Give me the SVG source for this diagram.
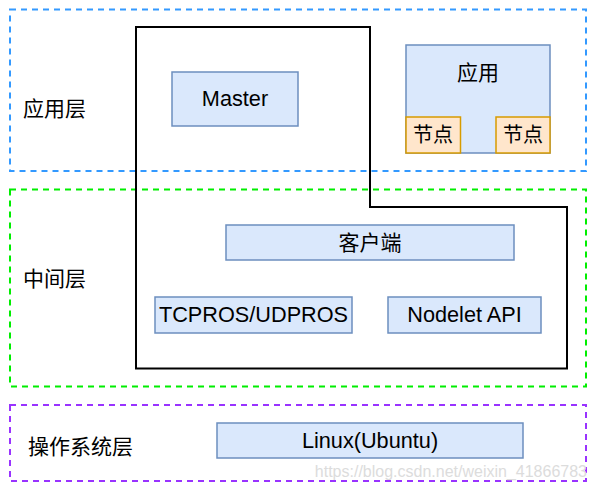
<svg xmlns="http://www.w3.org/2000/svg" width="595" height="488" viewBox="0 0 595 488">
<style>
text{font-family:"Liberation Sans","Noto Sans CJK SC",sans-serif;font-size:21px;fill:#000;dominant-baseline:central}
.c{text-anchor:middle}
.l{font-size:21.7px}
.layer{fill:none;stroke-width:2;stroke-dasharray:6 5}
.box{fill:#dae8fc;stroke:#6c8ebf;stroke-width:1.5}
.node{fill:#ffe6cc;stroke:#d79b00;stroke-width:1.5}
.wm{font-size:16px;fill:#dcdcdc;text-anchor:end;dominant-baseline:auto}
</style>
<rect width="595" height="488" fill="#fff"/>
<g id="layer-app">
<rect class="layer" x="10" y="9.5" width="576" height="161.5" stroke="#3399ff"/>
<text x="23" y="108">应用层</text>
</g>
<g id="layer-mid">
<rect class="layer" x="10" y="189.5" width="576" height="197" stroke="#00ee00"/>
<text x="23" y="278">中间层</text>
</g>
<g id="layer-os">
<rect class="layer" x="10" y="405" width="576" height="76" stroke="#9933ff"/>
<text x="28" y="446">操作系统层</text>
</g>
<g id="ros">
<path d="M136 27H370V207H567V368.5H136Z" fill="none" stroke="#000" stroke-width="2"/>
</g>
<g id="master">
<rect class="box" x="172" y="72" width="126" height="54"/>
<text class="c l" x="235" y="98.5">Master</text>
</g>
<g id="app">
<rect class="box" x="406" y="45" width="144" height="108"/>
<text class="c" x="478" y="72">应用</text>
</g>
<g id="node1">
<rect class="node" x="406" y="117" width="54.5" height="36"/>
<text class="c" x="433" y="135" style="font-size:20px">节点</text>
</g>
<g id="node2">
<rect class="node" x="496" y="117" width="54" height="36"/>
<text class="c" x="523" y="135" style="font-size:20px">节点</text>
</g>
<g id="client">
<rect class="box" x="226" y="225" width="288" height="35"/>
<text class="c" x="370" y="242.5">客户端</text>
</g>
<g id="tcpros">
<rect class="box" x="155" y="297" width="197" height="36"/>
<text class="c l" x="253.5" y="314.5">TCPROS/UDPROS</text>
</g>
<g id="nodelet">
<rect class="box" x="388" y="297" width="153" height="36"/>
<text class="c l" x="464.5" y="314.5">Nodelet API</text>
</g>
<g id="linux">
<rect class="box" x="217" y="423" width="306" height="35"/>
<text class="c l" x="370" y="440">Linux(Ubuntu)</text>
</g>
<g id="connectors"></g>
<text class="wm" x="587" y="477">https://blog.csdn.net/weixin_41866783</text>
</svg>
